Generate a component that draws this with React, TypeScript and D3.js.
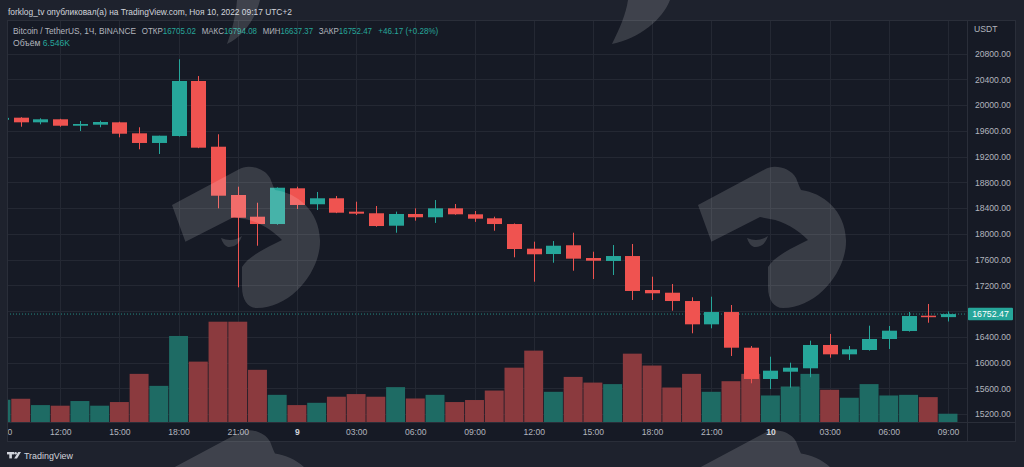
import { useEffect, useRef } from "react";
import * as d3 from "d3";

// hourly candles, Nov 8 09:00 -> Nov 10 09:00 (chart time UTC+2)
const startTime = new Date(Date.UTC(2022, 10, 8, 9));

const opens = [
  19770, 19803, 19731, 19778, 19678, 19694, 19731, 19560, 19410, 19518,
  20373, 19352, 18602, 18265, 18151, 18706, 18458, 18551, 18343, 18318,
  18125, 18307, 18256, 18395, 18302, 18240, 18151, 17768, 17685, 17821,
  17623, 17577, 17654, 17126, 17084, 16955, 16593, 16784, 16230, 15744,
  15857, 15910, 16272, 16127, 16194, 16365, 16489, 16727, 16705.02,
];
const highs = [
  19830, 19810, 19793, 19785, 19751, 19756, 19740, 19654, 19523, 20710,
  20450, 19545, 18731, 18482, 18720, 18731, 18649, 18587, 18498, 18431,
  18343, 18395, 18524, 18462, 18353, 18265, 18160, 17877, 17887, 18016,
  17721, 17825, 17841, 17333, 17219, 17013, 17022, 16893, 16256, 16090,
  15997, 16339, 16443, 16256, 16572, 16567, 16784, 16909, 16794.08,
];
const lows = [
  19740, 19663, 19700, 19663, 19596, 19654, 19498, 19312, 19239, 19510,
  19330, 18395, 17168, 17814, 18140, 18385, 18369, 18320, 18291, 18109,
  18016, 18203, 18168, 18295, 18184, 18047, 17634, 17255, 17550, 17426,
  17297, 17359, 16971, 16971, 16805, 16454, 16531, 16101, 15677, 15588,
  15609, 15770, 16075, 16039, 16184, 16210, 16480, 16618, 16637.37,
];
const closes = [
  19800, 19731, 19778, 19678, 19705, 19736, 19554, 19410, 19523, 20373,
  19337, 18591, 18249, 18151, 18715, 18447, 18551, 18327, 18312, 18120,
  18307, 18256, 18395, 18302, 18234, 18151, 17763, 17681, 17814, 17613,
  17581, 17654, 17111, 17075, 16955, 16593, 16784, 16230, 15744, 15873,
  15919, 16272, 16127, 16205, 16365, 16494, 16722, 16705.02, 16752.47,
];
// volume, thousands
const volumes = [
  17.6, 18.4, 13.4, 12.9, 16.6, 12.9, 15.8, 38.1, 28.6, 68.1,
  47.8, 79.4, 79.4, 41.3, 21.5, 13.4, 15.2, 20.0, 22.1, 20.0,
  27.6, 18.6, 21.5, 15.8, 17.4, 24.9, 43.0, 56.5, 23.9, 35.7,
  31.2, 30.0, 54.1, 44.7, 27.3, 38.1, 23.9, 32.3, 38.1, 21.0,
  28.1, 38.1, 25.5, 19.2, 30.0, 21.0, 21.5, 19.7, 6.546,
];

const priceTicks = [
  15200, 15600, 16000, 16400, 16800, 17200, 17600, 18000, 18400, 18800,
  19200, 19600, 20000, 20400, 20800,
];

const headerLine = "forklog_tv опубликовал(а) на TradingView.com, Ноя 10, 2022 09:17 UTC+2";
const symbolTitle = "Bitcoin / TetherUS, 1Ч, BINANCE";
const ohlcLabels = ["ОТКР", "МАКС", "МИН", "ЗАКР"];
const ohlcValues = ["16705.02", "16794.08", "16637.37", "16752.47"];
const changeText = "+46.17 (+0.28%)";
const volumeLabel = "Объём";
const volumeValue = "6.546K";

const UP = "#26a69a";
const DOWN = "#ef5350";
const UP_VOL = "#1e6b64";
const DOWN_VOL = "#8b3a3e";
const TEXT = "#b2b5be";
const FONT = "'Liberation Sans', Arial, sans-serif";

// forklog watermark (local coords)
const logoPath =
  "M0,0 L67,-35.7 C75,-41 92,-38 98,-27 C100,-22 102,-17 103,-15 C125,-12 147,5 148,35 C149,65 120,103 85,103 C76,103 70,95 70,82 L70,62 C76,52 92,44 102,39 L110,35 C100,25 86,16 72,14 L62,12 L13.4,36.7 Z";
const eyePath = "M49,33 Q60,38 70,31 Q66,43 56,42 Q51,40 49,33 Z";

interface Candle {
  t: Date;
  o: number;
  h: number;
  l: number;
  c: number;
  v: number;
}

const App: React.FC = () => {
  const svgRef = useRef<SVGSVGElement | null>(null);
  const width = 1024;
  const height = 467;

  useEffect(() => {
    if (!svgRef.current) return;

    const data: Candle[] = opens.map((o, i) => ({
      t: d3.utcHour.offset(startTime, i),
      o,
      h: highs[i],
      l: lows[i],
      c: closes[i],
      v: volumes[i],
    }));

    const svg = d3.select(svgRef.current);
    svg.selectAll("*").remove();
    svg.attr("width", width).attr("height", height);

    const panel = { left: 7, top: 20, right: 1016, bottom: 442 };
    const plotRight = 968;
    const plotBottom = 422;

    const xScale = d3
      .scaleUtc()
      .domain([data[0].t, data[data.length - 1].t])
      .range([1, 948]);
    const yScale = d3.scaleLinear().domain([15200, 20800]).range([414, 53.5]);
    const vScale = d3
      .scaleLinear()
      .domain([0, d3.max(volumes) as number])
      .range([plotBottom, 321.7]);

    const step = xScale(data[1].t) - xScale(data[0].t);
    const bodyW = 15;
    const lastPrice = closes[closes.length - 1];
    const lastY = yScale(lastPrice);

    const defs = svg.append("defs");
    defs
      .append("clipPath")
      .attr("id", "plot-clip")
      .append("rect")
      .attr("x", panel.left)
      .attr("y", panel.top)
      .attr("width", plotRight - panel.left)
      .attr("height", plotBottom - panel.top);
    defs
      .append("clipPath")
      .attr("id", "time-clip")
      .append("rect")
      .attr("x", panel.left)
      .attr("y", plotBottom)
      .attr("width", plotRight - panel.left)
      .attr("height", panel.bottom - plotBottom);

    // backgrounds
    svg.append("rect").attr("width", width).attr("height", height).attr("fill", "#1e222d");
    svg
      .append("rect")
      .attr("x", panel.left)
      .attr("y", panel.top)
      .attr("width", panel.right - panel.left)
      .attr("height", panel.bottom - panel.top)
      .attr("fill", "#161a25");

    const timeTicks = d3.utcHour
      .every(3)!
      .range(data[0].t, d3.utcHour.offset(data[data.length - 1].t, 1));

    // grid
    const grid = svg.append("g").attr("clip-path", "url(#plot-clip)");
    grid
      .selectAll("line.h")
      .data(priceTicks)
      .join("line")
      .attr("x1", panel.left)
      .attr("x2", plotRight)
      .attr("y1", (d) => Math.round(yScale(d)) + 0.5)
      .attr("y2", (d) => Math.round(yScale(d)) + 0.5)
      .attr("stroke", "#242833");
    grid
      .selectAll("line.v")
      .data(timeTicks)
      .join("line")
      .attr("x1", (d) => Math.round(xScale(d)) + 0.5)
      .attr("x2", (d) => Math.round(xScale(d)) + 0.5)
      .attr("y1", panel.top)
      .attr("y2", plotBottom)
      .attr("stroke", "#242833");

    const plot = svg.append("g").attr("clip-path", "url(#plot-clip)");

    // volume
    plot
      .selectAll("rect.vol")
      .data(data)
      .join("rect")
      .attr("x", (d) => xScale(d.t) - step / 2 + 0.4)
      .attr("width", step - 0.8)
      .attr("y", (d) => vScale(d.v))
      .attr("height", (d) => plotBottom - vScale(d.v))
      .attr("fill", (d) => (d.c >= d.o ? UP_VOL : DOWN_VOL));

    // last price line
    plot
      .append("line")
      .attr("x1", panel.left)
      .attr("x2", plotRight)
      .attr("y1", lastY)
      .attr("y2", lastY)
      .attr("stroke", UP)
      .attr("stroke-opacity", 0.8)
      .attr("stroke-dasharray", "1 2");

    // candles
    plot
      .selectAll("line.wick")
      .data(data)
      .join("line")
      .attr("x1", (d) => Math.round(xScale(d.t)) + 0.5)
      .attr("x2", (d) => Math.round(xScale(d.t)) + 0.5)
      .attr("y1", (d) => yScale(d.h))
      .attr("y2", (d) => yScale(d.l))
      .attr("stroke", (d) => (d.c >= d.o ? UP : DOWN));
    plot
      .selectAll("rect.body")
      .data(data)
      .join("rect")
      .attr("x", (d) => Math.round(xScale(d.t)) + 0.5 - bodyW / 2)
      .attr("width", bodyW)
      .attr("y", (d) => yScale(Math.max(d.o, d.c)))
      .attr("height", (d) => Math.max(1.5, Math.abs(yScale(d.o) - yScale(d.c))))
      .attr("fill", (d) => (d.c >= d.o ? UP : DOWN));

    // price axis (the tick hidden under the last price label is skipped)
    const yAxis = d3
      .axisRight(yScale)
      .tickValues(priceTicks.filter((p) => Math.abs(yScale(p) - lastY) > 10))
      .tickSize(0)
      .tickPadding(0)
      .tickFormat(d3.format(".2f") as any);
    const yg = svg.append("g").attr("transform", "translate(975,0)").call(yAxis);
    yg.select(".domain").remove();
    yg.selectAll("text")
      .attr("fill", TEXT)
      .attr("font-size", 8.6)
      .attr("font-family", FONT)
      .attr("dy", "0.34em");

    svg
      .append("text")
      .attr("x", 974)
      .attr("y", 32)
      .attr("fill", TEXT)
      .attr("font-size", 8.6)
      .attr("font-family", FONT)
      .text("USDT");

    // time axis
    const xAxis = d3
      .axisBottom(xScale)
      .tickValues(timeTicks)
      .tickSize(0)
      .tickPadding(0)
      .tickFormat((d: any) =>
        d.getUTCHours() === 0 ? d3.utcFormat("%-d")(d) : d3.utcFormat("%H:%M")(d)
      );
    const xg = svg
      .append("g")
      .attr("clip-path", "url(#time-clip)")
      .append("g")
      .attr("transform", `translate(0,${plotBottom + 7})`)
      .call(xAxis);
    xg.select(".domain").remove();
    xg.selectAll<SVGTextElement, Date>("text")
      .attr("fill", (d) => (d.getUTCHours() === 0 ? "#d1d4dc" : TEXT))
      .attr("font-weight", (d) => (d.getUTCHours() === 0 ? "bold" : "normal"))
      .attr("font-size", 8.6)
      .attr("font-family", FONT);

    // last price label
    svg
      .append("rect")
      .attr("x", 968)
      .attr("y", lastY - 6.2)
      .attr("width", 45)
      .attr("height", 12.4)
      .attr("rx", 1)
      .attr("fill", UP);
    svg
      .append("text")
      .attr("x", 990.5)
      .attr("y", lastY)
      .attr("dy", "0.35em")
      .attr("text-anchor", "middle")
      .attr("fill", "#ffffff")
      .attr("font-size", 8.8)
      .attr("font-family", FONT)
      .text(d3.format(".2f")(lastPrice));

    // panel borders
    const borders = svg.append("g").attr("stroke", "#2a2e39").attr("fill", "none");
    borders
      .append("rect")
      .attr("x", panel.left + 0.5)
      .attr("y", panel.top + 0.5)
      .attr("width", panel.right - panel.left - 1)
      .attr("height", panel.bottom - panel.top - 1);
    borders
      .append("line")
      .attr("x1", plotRight - 0.5)
      .attr("x2", plotRight - 0.5)
      .attr("y1", panel.top)
      .attr("y2", panel.bottom);
    borders
      .append("line")
      .attr("x1", panel.left)
      .attr("x2", panel.right)
      .attr("y1", plotBottom + 0.5)
      .attr("y2", plotBottom + 0.5);

    // header (the snapshot font is condensed, so fit each run to its width)
    const text = (x: number, y: number, s: string, fill: string, size: number, len?: number) => {
      const t = svg
        .append("text")
        .attr("x", x)
        .attr("y", y)
        .attr("fill", fill)
        .attr("font-size", size)
        .attr("font-family", FONT)
        .text(s);
      if (len) t.attr("textLength", len).attr("lengthAdjust", "spacingAndGlyphs");
      return t;
    };

    text(8, 14.5, headerLine, "#d1d4dc", 8.8, 284);
    text(13, 34, symbolTitle, TEXT, 8.6, 123);

    // label + value share one text run each, as in the legend
    const pairX = [141.7, 201.7, 262.7, 318.7];
    const pairW = [54.3, 55.3, 50.3, 53.3];
    ohlcLabels.forEach((l, i) => {
      const t = svg
        .append("text")
        .attr("x", pairX[i])
        .attr("y", 34)
        .attr("font-size", 8.6)
        .attr("font-family", FONT)
        .attr("textLength", pairW[i])
        .attr("lengthAdjust", "spacingAndGlyphs");
      t.append("tspan").attr("fill", TEXT).text(l);
      t.append("tspan").attr("fill", UP).text(ohlcValues[i]);
    });
    text(378.3, 34, changeText, UP, 8.6, 60);

    const vt = svg
      .append("text")
      .attr("x", 13)
      .attr("y", 46)
      .attr("font-size", 8.6)
      .attr("font-family", FONT)
      .attr("textLength", 57)
      .attr("lengthAdjust", "spacingAndGlyphs");
    vt.append("tspan").attr("fill", TEXT).text(volumeLabel + " ");
    vt.append("tspan").attr("fill", UP).text(volumeValue);

    // footer logo
    const footer = svg.append("g").attr("fill", "#d1d4dc");
    footer.append("rect").attr("x", 7).attr("y", 452).attr("width", 7).attr("height", 2.4);
    footer.append("rect").attr("x", 9.3).attr("y", 452).attr("width", 2.6).attr("height", 6.4);
    footer.append("circle").attr("cx", 15.6).attr("cy", 453.3).attr("r", 1.3);
    footer.append("path").attr("d", "M14.2,458.4 L18.2,452 L21,452 L17,458.4 Z");
    text(24, 458.5, "TradingView", "#d1d4dc", 9, 49);

    // watermark over everything
    const wm = svg.append("g").attr("fill", "#ffffff").attr("fill-opacity", 0.15);
    const logoOrigins: [number, number][] = [
      [172, 205],
      [698, 205],
      [172, 468.5],
      [698, 468.5],
    ];
    logoOrigins.forEach(([ox, oy]) => {
      const g = wm.append("g").attr("transform", `translate(${ox},${oy})`);
      g.append("path").attr("d", logoPath);
      g.append("path").attr("d", eyePath);
    });
    wm.append("path").attr("d", "M237,0 L260,0 C255,20 243,36 227,44 C232,30 236,15 237,0 Z");
    wm.append("path").attr("d", "M628,0 L670,0 C662,20 640,38 612,44 C620,28 626,14 628,0 Z");
  }, []);

  return (
    <svg
      ref={svgRef}
      style={{ position: "absolute", left: 0, top: 0, display: "block" }}
    ></svg>
  );
};

export default App;
